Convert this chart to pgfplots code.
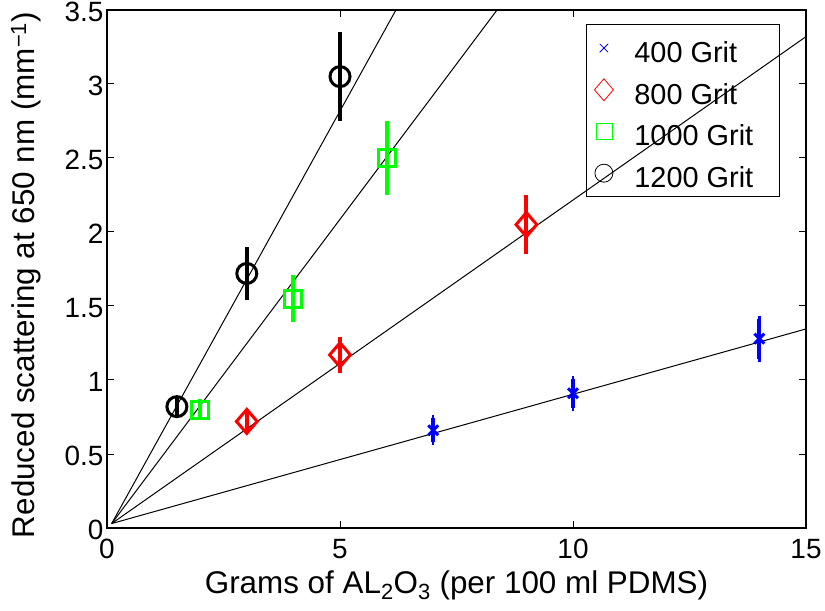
\documentclass[border=0pt]{standalone}
\usepackage{fontspec}
\setmainfont{Liberation Sans}
\usepackage{pgfplots}
\pgfplotsset{compat=1.18}
\usetikzlibrary{calc}
\begin{document}
\begin{tikzpicture}
\begin{axis}[
  name=ax,
  scale only axis, width=699bp, height=518bp,
  xmin=0, xmax=15, ymin=0, ymax=3.5,
  xtick={0,5,10,15}, ytick={0,0.5,1,1.5,2,2.5,3,3.5},
  tick align=inside, major tick length=7bp,
  tick style={line width=1bp, black},
  axis line style={line width=1.2bp},
  font=\fontsize{28}{32}\selectfont,
  /pgf/number format/assume math mode=true,
  xticklabel style={yshift=-8bp},
  yticklabel style={yshift=-2bp},
  xlabel={Grams of AL\textsubscript{2}O\textsubscript{3} (per 100 ml PDMS)},
  ylabel={Reduced scattering at 650 nm (mm\textsuperscript{−1})},
  xlabel style={at={($(axis description cs:0.5,0)+(0,-65bp)$)}, anchor=base, font=\fontsize{31.5}{36}\selectfont},
  ylabel style={at={($(axis description cs:0,0.5)+(-72bp,-6bp)$)}, anchor=base, font=\fontsize{31.5}{36}\selectfont},
  legend style={at={(0.9628,0.973)}, anchor=north east, draw=black, fill=none,
    line width=1.2bp, font=\fontsize{29}{33}\selectfont,
    nodes={inner sep=0pt, text height=29bp, text depth=0bp},
    row sep=12.7bp, column sep=21bp, inner xsep=8bp, inner ysep=9bp},
  legend cell align=left,
  clip=true,
]
\addlegendimage{only marks, mark=x, blue, mark size=6bp, line width=0.8bp}
\addlegendentry{\makebox[137bp][l]{400 Grit}}
\addlegendimage{only marks, mark=diamond, red, mark size=11bp, mark options={xscale=1.15}, line width=0.8bp}
\addlegendentry{\makebox[137bp][l]{800 Grit}}
\addlegendimage{only marks, mark=square, green, mark size=8bp, line width=0.8bp}
\addlegendentry{\makebox[137bp][l]{1000 Grit}}
\addlegendimage{only marks, mark=o, black, mark size=9bp, line width=0.8bp}
\addlegendentry{\makebox[137bp][l]{1200 Grit}}

% fit lines
\addplot[black, line width=1bp, forget plot] coordinates {(0.1,0.03) (15,1.345)};
\addplot[black, line width=1bp, forget plot] coordinates {(0.1,0.03) (15,3.32)};
\addplot[black, line width=1bp, forget plot] coordinates {(0.1,0.03) (8.37,3.5)};
\addplot[black, line width=1bp, forget plot] coordinates {(0.1,0.03) (6.2,3.5)};

% 400 grit
\addplot[blue, only marks, mark=x, mark size=7bp, mark options={line width=3bp}, forget plot,
  error bars/.cd, y dir=both, y explicit, error mark=-, error mark options={line width=2.5bp, mark size=3bp},
  error bar style={line width=4bp}]
  table[x=x, y=y, y error=e] {
x y e
7 0.66 0.08
10 0.91 0.10
14 1.28 0.135
};
% 800 grit
\addplot[red, only marks, mark=diamond, mark size=12bp, mark options={xscale=1.15, line width=3bp}, forget plot,
  error bars/.cd, y dir=both, y explicit, error mark=none,
  error bar style={line width=4bp}]
  table[x=x, y=y, y error=e] {
x y e
3 0.72 0.07
5 1.17 0.12
9 2.05 0.20
};
% 1000 grit
\addplot[green, only marks, mark=square, mark size=8.5bp, mark options={line width=3bp}, forget plot,
  error bars/.cd, y dir=both, y explicit, error mark=none,
  error bar style={line width=4bp}]
  table[x=x, y=y, y error=e] {
x y e
2 0.80 0.07
4 1.55 0.16
6 2.50 0.25
};
% 1200 grit
\addplot[black, only marks, mark=o, mark size=10bp, mark options={line width=3bp}, forget plot,
  error bars/.cd, y dir=both, y explicit, error mark=none,
  error bar style={line width=4bp}]
  table[x=x, y=y, y error=e] {
x y e
1.5 0.82 0.06
3 1.72 0.18
5 3.05 0.30
};
\end{axis}
\pgfresetboundingbox
\path[use as bounding box] ([shift={(-107bp,-83bp)}]ax.south west) rectangle ([shift={(19bp,10bp)}]ax.north east);
\end{tikzpicture}
\end{document}
